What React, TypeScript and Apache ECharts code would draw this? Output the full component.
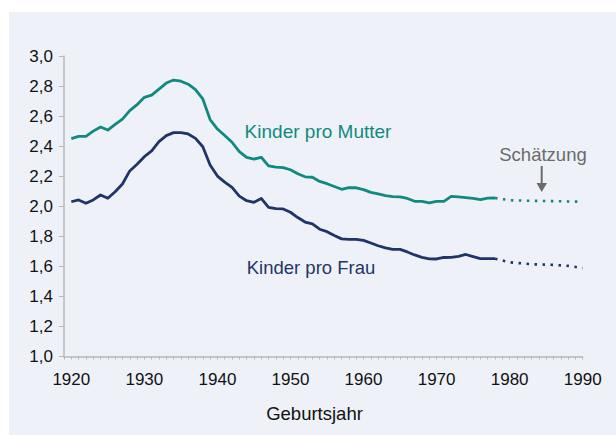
import React, { useEffect, useRef } from "react";
import * as echarts from "echarts";

const years: number[] = [
  1920, 1921, 1922, 1923, 1924, 1925, 1926, 1927, 1928, 1929,
  1930, 1931, 1932, 1933, 1934, 1935, 1936, 1937, 1938, 1939,
  1940, 1941, 1942, 1943, 1944, 1945, 1946, 1947, 1948, 1949,
  1950, 1951, 1952, 1953, 1954, 1955, 1956, 1957, 1958, 1959,
  1960, 1961, 1962, 1963, 1964, 1965, 1966, 1967, 1968, 1969,
  1970, 1971, 1972, 1973, 1974, 1975, 1976, 1977, 1978,
];

const kinderProMutter: number[] = [
  2.45, 2.465, 2.465, 2.5, 2.527, 2.507, 2.545, 2.58, 2.636, 2.676,
  2.725, 2.74, 2.78, 2.82, 2.84, 2.832, 2.812, 2.776, 2.714, 2.577,
  2.514, 2.471, 2.426, 2.364, 2.325, 2.314, 2.326, 2.269, 2.26, 2.257,
  2.243, 2.216, 2.196, 2.193, 2.165, 2.15, 2.131, 2.113, 2.124, 2.123,
  2.111, 2.092, 2.082, 2.071, 2.064, 2.063, 2.052, 2.033, 2.033, 2.022,
  2.033, 2.033, 2.066, 2.063, 2.058, 2.053, 2.044, 2.054, 2.055,
];

const kinderProFrau: number[] = [
  2.03, 2.042, 2.02, 2.042, 2.075, 2.053, 2.097, 2.148, 2.235, 2.279,
  2.33, 2.368, 2.43, 2.47, 2.49, 2.49, 2.481, 2.452, 2.396, 2.275,
  2.201, 2.161, 2.125, 2.067, 2.037, 2.026, 2.052, 1.993, 1.984, 1.982,
  1.96, 1.925, 1.895, 1.883, 1.847, 1.831, 1.805, 1.783, 1.78, 1.78,
  1.773, 1.755, 1.737, 1.723, 1.713, 1.713, 1.696, 1.676, 1.66, 1.65,
  1.649, 1.659, 1.66, 1.667, 1.679, 1.665, 1.651, 1.651, 1.651,
];

const estimateYears: number[] = [1978, 1980, 1983, 1986, 1988, 1990];
const mutterEstimate: number[] = [2.055, 2.04, 2.036, 2.034, 2.032, 2.03];
const frauEstimate: number[] = [1.651, 1.627, 1.614, 1.61, 1.603, 1.589];

const xTickLabels: number[] = [1920, 1930, 1940, 1950, 1960, 1970, 1980, 1990];
const yTickLabels: string[] = ["1,0", "1,2", "1,4", "1,6", "1,8", "2,0", "2,2", "2,4", "2,6", "2,8", "3,0"];

const TEAL = "#12897f";
const NAVY = "#1f3567";
const GRAY_AXIS = "#b8b8b8";
const BG = "#eef2f8";
const TICK_FONT = '"Liberation Sans Narrow", "Liberation Sans", Arial, sans-serif';
const TEXT_FONT = '"Liberation Sans", Arial, sans-serif';

function pairs(xs: number[], ys: number[]): number[][] {
  return xs.map((x, i) => [x, ys[i]]);
}

export default function App() {
  const ref = useRef<HTMLDivElement>(null);

  useEffect(() => {
    if (!ref.current) return;
    const chart = echarts.init(ref.current, undefined, { renderer: "svg" });
    chart.setOption({
      animation: false,
      backgroundColor: "#ffffff",
      grid: { left: 64, right: 33.3, top: 56, bottom: 78.5, containLabel: false },
      xAxis: {
        type: "value",
        min: 1919,
        max: 1990,
        interval: 1,
        splitLine: { show: false },
        axisLine: { show: true, lineStyle: { color: GRAY_AXIS, width: 1.5 } },
        axisTick: { show: true, length: 3, lineStyle: { color: GRAY_AXIS, width: 1 } },
        axisLabel: {
          show: true,
          interval: 0,
          hideOverlap: false,
          showMinLabel: true,
          showMaxLabel: true,
          margin: 14,
          color: "#111111",
          fontSize: 17,
          fontFamily: TICK_FONT,
          formatter: (v: number) => (xTickLabels.indexOf(Math.round(v)) >= 0 ? String(Math.round(v)) : ""),
        },
      },
      yAxis: {
        type: "value",
        min: 1,
        max: 3,
        interval: 0.2,
        splitLine: { show: false },
        axisLine: { show: true, lineStyle: { color: GRAY_AXIS, width: 1.5 } },
        axisTick: { show: true, length: 5, lineStyle: { color: GRAY_AXIS, width: 1 } },
        axisLabel: {
          margin: 11,
          color: "#111111",
          fontSize: 17,
          fontFamily: TICK_FONT,
          formatter: (v: number) => yTickLabels[Math.round((v - 1) / 0.2)] ?? "",
        },
      },
      graphic: [
        {
          type: "rect",
          z: -10,
          silent: true,
          shape: { x: 9, y: 12, width: 607, height: 423 },
          style: { fill: BG },
        },
        {
          type: "text",
          x: 318,
          y: 131,
          style: {
            text: "Kinder pro Mutter",
            fill: TEAL,
            font: `19px ${TEXT_FONT}`,
            align: "center",
            verticalAlign: "middle",
          },
        },
        {
          type: "text",
          x: 311,
          y: 267,
          style: {
            text: "Kinder pro Frau",
            fill: NAVY,
            font: `18.5px ${TEXT_FONT}`,
            align: "center",
            verticalAlign: "middle",
          },
        },
        {
          type: "text",
          x: 543,
          y: 154,
          style: {
            text: "Schätzung",
            fill: "#6a6a6a",
            font: `18.5px ${TEXT_FONT}`,
            align: "center",
            verticalAlign: "middle",
          },
        },
        {
          type: "line",
          shape: { x1: 541.7, y1: 166, x2: 541.7, y2: 184 },
          style: { stroke: "#6a6a6a", lineWidth: 2 },
        },
        {
          type: "polygon",
          shape: { points: [[536.5, 183], [547, 183], [541.7, 192]] },
          style: { fill: "#6a6a6a" },
        },
        {
          type: "text",
          x: 314.5,
          y: 413,
          style: {
            text: "Geburtsjahr",
            fill: "#111111",
            font: `18.5px ${TEXT_FONT}`,
            align: "center",
            verticalAlign: "middle",
          },
        },
      ],
      series: [
        {
          name: "Kinder pro Mutter",
          type: "line",
          data: pairs(years, kinderProMutter),
          showSymbol: false,
          symbol: "none",
          lineStyle: { color: TEAL, width: 2.8, join: "round" },
        },
        {
          name: "Kinder pro Mutter (Schätzung)",
          type: "line",
          data: pairs(estimateYears, mutterEstimate),
          showSymbol: false,
          symbol: "none",
          lineStyle: { color: TEAL, width: 2.6, type: [2.5, 5.5] },
        },
        {
          name: "Kinder pro Frau",
          type: "line",
          data: pairs(years, kinderProFrau),
          showSymbol: false,
          symbol: "none",
          lineStyle: { color: NAVY, width: 2.8, join: "round" },
        },
        {
          name: "Kinder pro Frau (Schätzung)",
          type: "line",
          data: pairs(estimateYears, frauEstimate),
          showSymbol: false,
          symbol: "none",
          lineStyle: { color: NAVY, width: 2.6, type: [2.5, 5.5] },
        },
      ],
    });
    return () => chart.dispose();
  }, []);

  return (
    <div style={{ position: "absolute", left: 0, top: 0, width: 616, height: 435 }}>
      <div ref={ref} style={{ width: 616, height: 435 }} />
    </div>
  );
}
